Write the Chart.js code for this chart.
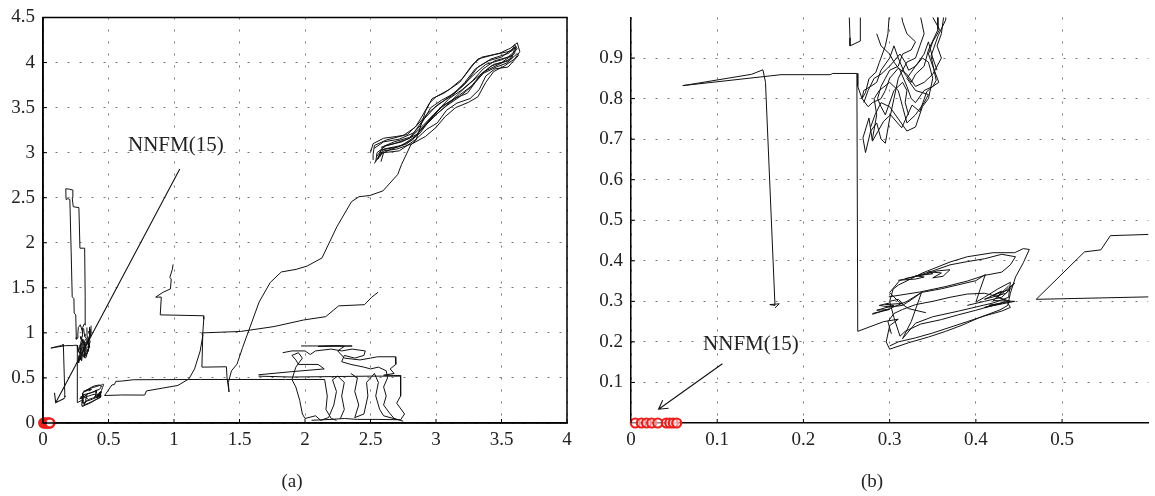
<!DOCTYPE html>
<html>
<head>
<meta charset="utf-8">
<script src="https://cdn.jsdelivr.net/npm/chart.js@4.4.0/dist/chart.umd.min.js"></script>
<style>
  body { margin: 0; background: #fff; width: 1155px; height: 496px; position: relative; overflow: hidden; }
  canvas { position: absolute; top: 0; }
  #chartA { left: 0; }
  #chartB { left: 580px; }
  .cap { position: absolute; top: 470px; font: 19px "Liberation Serif", serif; color: #222; transform: translateX(-50%); }
</style>
</head>
<body>
<canvas id="chartA" width="580" height="496"></canvas>
<canvas id="chartB" width="575" height="496"></canvas>
<div class="cap" style="left:292px">(a)</div>
<div class="cap" style="left:872px">(b)</div>
<script>
// tick values for both panels
const ticksAX = [0, 0.5, 1, 1.5, 2, 2.5, 3, 3.5, 4];
const ticksAY = [0, 0.5, 1, 1.5, 2, 2.5, 3, 3.5, 4, 4.5];
const ticksBX = [0, 0.1, 0.2, 0.3, 0.4, 0.5];
const ticksBY = [0.1, 0.2, 0.3, 0.4, 0.5, 0.6, 0.7, 0.8, 0.9];

// NNFM(15) positions, all sitting on y = 0
const nnfmX = [0.005, 0.012, 0.018, 0.024, 0.031, 0.041, 0.045, 0.049, 0.053];

// flag near the origin: vertical at 0.262, flat top, drop back to 0.29
const flagPath = [[0.263,0.226],[0.262,0.862],[0.234,0.862],[0.231,0.859],[0.174,0.859],[0.06,0.832],[0.066,0.834],
  [0.14,0.86],[0.153,0.871],[0.156,0.84],[0.167,0.29],[0.161,0.292],[0.172,0.294],[0.167,0.284]];

// lower tangle around (0.3..0.46, 0.18..0.43)
const lowLoopA = [[0.263,0.226],[0.293,0.25],[0.31,0.256],[0.3,0.24],[0.296,0.2],[0.3,0.182],[0.322,0.198],[0.345,0.212],
  [0.365,0.226],[0.385,0.242],[0.403,0.259],[0.428,0.279],[0.437,0.29],[0.44,0.32],[0.446,0.36],[0.455,0.395],[0.462,0.428],
  [0.455,0.43],[0.445,0.42],[0.42,0.42],[0.39,0.41],[0.37,0.397],[0.35,0.38],[0.338,0.37],[0.325,0.356],[0.31,0.34],
  [0.304,0.33],[0.3,0.3],[0.305,0.26],[0.312,0.214],[0.318,0.226],[0.336,0.244],[0.36,0.255],[0.38,0.267],[0.4,0.278],
  [0.42,0.29],[0.432,0.298]];
const lowLoopB = [[0.28,0.268],[0.3,0.282],[0.32,0.3],[0.337,0.322],[0.36,0.331],[0.38,0.341],[0.4,0.351],[0.411,0.366],
  [0.405,0.33],[0.4,0.298],[0.41,0.31],[0.425,0.33],[0.44,0.347],[0.438,0.31],[0.42,0.296],[0.4,0.286],[0.38,0.276],
  [0.35,0.262],[0.33,0.246],[0.315,0.208],[0.325,0.25],[0.337,0.322],[0.328,0.308],[0.315,0.29],[0.3,0.286],[0.288,0.29],
  [0.3,0.296]];
const lowLoopC = [[0.299,0.311],[0.335,0.323],[0.364,0.336],[0.39,0.35],[0.41,0.364],[0.43,0.372],[0.44,0.39],[0.446,0.41],
  [0.43,0.416],[0.41,0.405],[0.39,0.398],[0.37,0.39],[0.35,0.375],[0.33,0.362],[0.312,0.352],[0.3,0.322],[0.31,0.3],
  [0.322,0.282],[0.342,0.272]];
const lowLoopD = [[0.3,0.19],[0.31,0.2],[0.33,0.21],[0.35,0.222],[0.37,0.236],[0.39,0.25],[0.41,0.264],[0.43,0.276],
  [0.44,0.285],[0.436,0.3],[0.425,0.312],[0.41,0.32],[0.39,0.318],[0.37,0.31],[0.35,0.3],[0.33,0.292],[0.315,0.28],
  [0.305,0.27],[0.298,0.25],[0.302,0.22]];
const scribbleA = [[0.31,0.352],[0.33,0.355],[0.34,0.36],[0.33,0.363],[0.35,0.368],[0.345,0.373],[0.36,0.37],[0.35,0.358],
  [0.362,0.362],[0.37,0.378],[0.355,0.375],[0.34,0.366],[0.318,0.356]];
const scribbleB = [[0.39,0.29],[0.41,0.3],[0.43,0.31],[0.44,0.33],[0.42,0.315],[0.43,0.325],[0.41,0.305],[0.435,0.32],
  [0.445,0.345],[0.425,0.31],[0.44,0.3],[0.415,0.29],[0.43,0.295],[0.41,0.285],[0.445,0.3],[0.42,0.302],[0.438,0.338]];
const scribbleC = [[0.28,0.27],[0.29,0.275],[0.3,0.28],[0.285,0.278],[0.305,0.29],[0.295,0.292],[0.315,0.295],[0.31,0.305],[0.3,0.3]];

// upper tangle around (0.26..0.37, 0.67..1.1)
const upLoopA = [[0.263,0.862],[0.263,0.83],[0.268,0.8],[0.272,0.815],[0.276,0.849],[0.284,0.865],[0.288,0.889],[0.295,0.93],
  [0.298,0.96],[0.301,1.05]];
const upLoopB = [[0.367,1.08],[0.365,0.994],[0.356,0.954],[0.348,0.905],[0.354,0.845],[0.35,0.83],[0.343,0.817],[0.335,0.768],
  [0.326,0.784],[0.314,0.728],[0.301,0.76],[0.293,0.744],[0.28,0.695],[0.276,0.752],[0.269,0.703],[0.272,0.667],[0.278,0.72],
  [0.285,0.74],[0.29,0.7],[0.295,0.69],[0.3,0.75],[0.305,0.8],[0.31,0.85],[0.315,0.87],[0.32,0.89],[0.33,0.9],[0.335,0.93],
  [0.34,0.96],[0.336,1.0],[0.335,1.06]];
const upLoopC = [[0.355,1.06],[0.356,0.97],[0.345,0.92],[0.34,0.88],[0.33,0.86],[0.325,0.84],[0.318,0.86],[0.31,0.9],
  [0.305,0.93],[0.3,0.9],[0.29,0.87],[0.285,0.84],[0.278,0.83],[0.27,0.82],[0.268,0.8],[0.275,0.78],[0.28,0.79],[0.29,0.8],
  [0.295,0.82],[0.3,0.85],[0.31,0.875],[0.32,0.86],[0.33,0.83],[0.34,0.84],[0.35,0.86],[0.36,0.9],[0.355,0.93],[0.36,0.96],
  [0.365,1.04]];
const upLoopD = [[0.28,0.7],[0.285,0.76],[0.282,0.8],[0.288,0.82],[0.3,0.84],[0.31,0.82],[0.315,0.78],[0.32,0.74],[0.33,0.76],
  [0.34,0.79],[0.345,0.81],[0.33,0.82],[0.32,0.85],[0.33,0.88],[0.34,0.91],[0.345,0.94],[0.35,0.9],[0.355,0.87]];
const upLoopE = [[0.27,0.79],[0.275,0.82],[0.282,0.85],[0.29,0.86],[0.3,0.88],[0.312,0.91],[0.318,0.89],[0.322,0.87],
  [0.33,0.88],[0.338,0.9],[0.345,0.89],[0.35,0.85],[0.345,0.8],[0.338,0.78],[0.33,0.73],[0.32,0.72],[0.31,0.75],[0.3,0.78],
  [0.29,0.79],[0.283,0.76],[0.278,0.73]];
const upLoopF = [[0.285,0.96],[0.29,0.93],[0.3,0.91],[0.305,0.89],[0.312,0.87],[0.32,0.83],[0.325,0.8],[0.33,0.79],
  [0.34,0.82],[0.35,0.83],[0.357,0.84],[0.35,0.88],[0.345,0.91],[0.35,0.94],[0.358,0.97],[0.345,1.02]];
const upLoopG = [[0.31,1.05],[0.315,0.99],[0.32,0.96],[0.33,0.94],[0.325,0.92],[0.315,0.91],[0.31,0.88],[0.3,0.87],
  [0.295,0.85],[0.29,0.83],[0.286,0.8],[0.29,0.78],[0.295,0.76],[0.3,0.79],[0.305,0.82],[0.315,0.84],[0.32,0.82],
  [0.318,0.79],[0.322,0.76]];

// tall narrow loop rising to 2.6
const tallPath = [[0.301,1.0],[0.303,1.06],[0.315,1.1],[0.326,1.09],[0.322,1.4],[0.318,1.94],[0.282,1.94],[0.274,2.39],
  [0.231,2.4],[0.223,2.5],[0.228,2.585],[0.2,2.595],[0.174,2.6],[0.176,2.48],[0.19,2.49],[0.205,2.48],[0.215,1.9],
  [0.223,1.4],[0.236,1.38],[0.238,1.22],[0.25,1.2],[0.254,0.95],[0.254,0.93],[0.266,0.942],[0.266,1.0],[0.27,1.06],
  [0.285,1.09],[0.3,1.02]];

// long flat run at 0.48 and the rising branch ending near (2.56, 1.45)
const flatPath = [[0.47,0.305],[0.526,0.422],[0.545,0.427],[0.556,0.462],[0.6,0.465],[0.69,0.48],[1.2,0.483],[1.85,0.483],
  [2.15,0.483],[2.17,0.3],[2.16,0.15],[2.2,0.05],[2.24,0.03]];
const risePath = [[0.47,0.305],[0.6,0.311],[0.776,0.31],[0.79,0.356],[1.03,0.417],[1.114,0.49],[1.157,0.6],[1.2,0.8],
  [1.221,0.98],[1.215,1.0],[1.509,1.016],[1.763,1.07],[1.989,1.143],[2.158,1.18],[2.257,1.3],[2.454,1.313],[2.51,1.397],
  [2.558,1.451]];

// staircase from (1, 1.77) down and the long climb to the upper band
const climbPath = [[0.993,1.76],[0.987,1.705],[0.968,1.615],[0.979,1.597],[0.973,1.488],[0.917,1.451],[0.86,1.397],
  [0.903,1.397],[0.895,1.2],[1.225,1.19],[1.227,1.15],[1.22,1.0],[1.213,0.62],[1.4,0.624],[1.405,0.5],[1.42,0.345],
  [1.415,0.45],[1.439,0.58],[1.481,0.653],[1.523,0.835],[1.65,1.343],[1.735,1.56],[1.819,1.676],[1.932,1.705],
  [2.017,1.742],[2.13,1.832],[2.243,2.177],[2.355,2.456],[2.412,2.511],[2.496,2.525],[2.595,2.576],[2.708,2.758],
  [2.736,2.866],[2.807,3.084],[2.847,3.137]];

// band of laps between (2.5, 2.9) and (3.62, 4.2)
const bandA = [[2.847,3.137],[2.92,3.46],[2.97,3.6],[3.06,3.66],[3.18,3.78],[3.27,3.95],[3.32,4.04],[3.45,4.09],[3.58,4.13],
  [3.6,4.2],[3.62,4.15],[3.55,4.06],[3.45,4.02],[3.36,3.93],[3.28,3.8],[3.2,3.7],[3.1,3.6],[3.02,3.48],[2.94,3.35],
  [2.85,3.2],[2.74,3.12],[2.62,3.08],[2.55,3.0],[2.54,2.9]];
const bandB = [[2.56,2.93],[2.58,3.03],[2.7,3.06],[2.82,3.14],[2.9,3.28],[2.98,3.4],[3.08,3.52],[3.18,3.62],[3.26,3.72],
  [3.35,3.88],[3.44,3.98],[3.56,4.02],[3.62,4.1],[3.63,4.08],[3.55,3.95],[3.45,3.93],[3.38,3.85],[3.33,3.7],[3.26,3.6],
  [3.16,3.55],[3.08,3.47],[3.01,3.33],[2.93,3.26],[2.84,3.14],[2.72,3.02],[2.6,3.0],[2.58,2.9]];
const bandC = [[2.55,2.96],[2.6,3.07],[2.68,3.12],[2.8,3.17],[2.88,3.3],[2.96,3.5],[3.04,3.58],[3.14,3.66],[3.22,3.78],
  [3.3,3.93],[3.4,4.02],[3.5,4.06],[3.61,4.18],[3.6,4.1],[3.5,4.0],[3.42,3.96],[3.3,3.82],[3.22,3.72],[3.12,3.58],
  [3.04,3.5],[2.96,3.38],[2.88,3.22],[2.78,3.1],[2.66,3.04],[2.57,2.98],[2.53,2.88]];
const bandD = [[2.52,2.92],[2.52,2.98],[2.53,3.08],[2.62,3.14],[2.75,3.19],[2.84,3.28],[2.94,3.44],[3.02,3.54],[3.12,3.63],
  [3.22,3.76],[3.32,3.95],[3.42,4.04],[3.55,4.1],[3.6,4.16],[3.58,4.05],[3.48,3.98],[3.37,3.9],[3.28,3.75],[3.18,3.64],
  [3.1,3.55],[3.0,3.42],[2.92,3.3],[2.84,3.18],[2.74,3.08],[2.6,3.04],[2.55,2.92]];
const bandE = [[2.5,3.0],[2.52,3.1],[2.6,3.16],[2.7,3.18],[2.78,3.2],[2.85,3.3],[2.9,3.42],[2.95,3.55],[3.0,3.62],[3.1,3.7],
  [3.2,3.82],[3.28,3.98],[3.35,4.06],[3.48,4.1],[3.57,4.16],[3.62,4.22],[3.64,4.12],[3.6,4.04],[3.52,3.96],[3.44,3.9],
  [3.38,3.78],[3.32,3.62],[3.25,3.56],[3.15,3.5],[3.07,3.4],[3.0,3.28],[2.92,3.18],[2.82,3.1],[2.7,3.04],[2.6,3.02],
  [2.57,2.95]];
const bandF = [[2.53,3.05],[2.6,3.12],[2.72,3.15],[2.83,3.22],[2.9,3.36],[2.99,3.5],[3.1,3.62],[3.2,3.74],[3.3,3.88],
  [3.38,3.98],[3.5,4.03],[3.58,4.08],[3.55,4.0],[3.46,3.95],[3.36,3.88],[3.3,3.78],[3.24,3.66],[3.14,3.6],[3.05,3.52],
  [2.98,3.42],[2.9,3.3],[2.8,3.16],[2.68,3.1],[2.58,3.06]];

// boxy tangle on the floor between x = 1.6 and 2.8
const boxA = [[1.83,0.78],[1.9,0.8],[2.0,0.8],[2.04,0.76],[2.08,0.8],[2.2,0.82],[2.28,0.8],[2.36,0.82],[2.46,0.8],[2.45,0.75],
  [2.38,0.72],[2.3,0.75],[2.28,0.68],[2.35,0.65],[2.45,0.62],[2.5,0.6],[2.56,0.62],[2.62,0.58],[2.63,0.5],[2.6,0.4],
  [2.62,0.3],[2.6,0.2],[2.64,0.12],[2.68,0.05],[2.75,0.02]];
const boxB = [[1.97,0.855],[2.36,0.855],[2.1,0.85],[2.25,0.86],[2.3,0.85],[2.25,0.8],[2.3,0.72],[2.42,0.7],[2.5,0.72],
  [2.553,0.735],[2.69,0.735],[2.693,0.65],[2.65,0.6],[2.68,0.55],[2.6,0.53],[2.73,0.527],[2.73,0.3],[2.7,0.22],[2.76,0.1],
  [2.73,0.036],[2.55,0.04],[2.4,0.04],[2.3,0.05],[2.2,0.04],[2.05,0.03]];
const boxC = [[1.645,0.535],[1.9,0.57],[2.147,0.6],[2.1,0.65],[1.95,0.65],[1.93,0.7],[1.9,0.75],[1.95,0.78],[1.98,0.72],
  [1.93,0.62],[1.9,0.483],[1.93,0.4],[1.96,0.25],[1.98,0.1],[2.0,0.05],[2.08,0.08],[2.12,0.03],[2.18,0.06],[2.22,0.2],
  [2.24,0.35],[2.21,0.48],[2.25,0.52],[2.3,0.45],[2.28,0.3],[2.3,0.15],[2.27,0.05]];
const boxD = [[2.35,0.55],[2.4,0.5],[2.38,0.35],[2.41,0.2],[2.38,0.06],[2.45,0.1],[2.48,0.3],[2.47,0.45],[2.53,0.55],
  [2.56,0.45],[2.54,0.3],[2.57,0.15],[2.6,0.08],[2.7,0.04]];
const boxE = [[1.645,0.52],[1.9,0.51],[2.2,0.515],[2.5,0.52],[2.73,0.52]];

const paths = [flagPath, lowLoopA, lowLoopB, lowLoopC, lowLoopD, scribbleA, scribbleB, scribbleC,
  upLoopA, upLoopB, upLoopC, upLoopD, upLoopE, upLoopF, upLoopG, tallPath, flatPath, risePath, climbPath,
  bandA, bandB, bandC, bandD, bandE, bandF, boxA, boxB, boxC, boxD, boxE];

// annotation text and arrow (from, to) in data units
const noteA = { text: 'NNFM(15)', x: 0.649, y: 3.08, arrow: [[1.044, 2.82], [0.097, 0.225]], spread: 35 };
const noteB = { text: 'NNFM(15)', x: 0.0836, y: 0.194, arrow: [[0.106, 0.146], [0.032, 0.034]], spread: 30 };

const serif = "'Liberation Serif', 'Times New Roman', serif";
Chart.defaults.font.family = serif;
Chart.defaults.font.size = 19;
Chart.defaults.color = '#222';

// inward ticks, optional box and the arrow note
const panelDecor = {
  id: 'panelDecor',
  afterDraw(chart, args, opts) {
    const { ctx, chartArea: a, scales: { x, y } } = chart;
    ctx.save();
    ctx.strokeStyle = '#000';
    ctx.lineWidth = 1;
    ctx.beginPath();
    x.ticks.forEach(t => {
      const px = x.getPixelForValue(t.value);
      ctx.moveTo(px, a.bottom);
      ctx.lineTo(px, a.bottom - 4);
    });
    y.ticks.forEach(t => {
      const py = y.getPixelForValue(t.value);
      ctx.moveTo(a.left, py);
      ctx.lineTo(a.left + 4, py);
    });
    ctx.stroke();
    if (opts.box) {
      ctx.lineWidth = 1.5;
      ctx.strokeRect(a.left, a.top, a.right - a.left, a.bottom - a.top);
    }
    const note = opts.note;
    ctx.fillStyle = '#222';
    ctx.font = '21px ' + serif;
    ctx.textBaseline = 'middle';
    ctx.fillText(note.text, x.getPixelForValue(note.x), y.getPixelForValue(note.y));
    const [p0, p1] = note.arrow.map(([vx, vy]) => [x.getPixelForValue(vx), y.getPixelForValue(vy)]);
    const ang = Math.atan2(p0[1] - p1[1], p0[0] - p1[0]);
    const s = note.spread * Math.PI / 180;
    ctx.strokeStyle = '#111';
    ctx.lineWidth = 1.1;
    ctx.beginPath();
    ctx.moveTo(p0[0], p0[1]);
    ctx.lineTo(p1[0], p1[1]);
    ctx.moveTo(p1[0] + 10 * Math.cos(ang - s), p1[1] + 10 * Math.sin(ang - s));
    ctx.lineTo(p1[0], p1[1]);
    ctx.lineTo(p1[0] + 10 * Math.cos(ang + s), p1[1] + 10 * Math.sin(ang + s));
    ctx.stroke();
    ctx.restore();
  }
};

function buildDatasets() {
  const marks = {
    data: nnfmX.map(v => ({ x: v, y: 0 })),
    showLine: false,
    pointRadius: 4.5,
    pointBorderWidth: 2.2,
    pointBorderColor: '#e8201e',
    pointBackgroundColor: 'rgba(255,255,255,0.5)',
    clip: false
  };
  const lines = paths.map(p => ({
    data: p.map(([px, py]) => ({ x: px, y: py })),
    showLine: true,
    borderColor: '#111',
    borderWidth: 1,
    pointRadius: 0,
    tension: 0,
    fill: false
  }));
  return [marks, ...lines];
}

function axis(min, max, tickList, fit) {
  return {
    type: 'linear',
    min: min,
    max: max,
    afterBuildTicks: s => { s.ticks = tickList.map(v => ({ value: v })); },
    afterFit: fit,
    ticks: {
      font: { family: serif, size: 19, lineHeight: 1 },
      color: '#222',
      padding: 8,
      maxRotation: 0,
      callback: v => String(v)
    },
    grid: { color: '#777', lineWidth: 1, drawTicks: false },
    border: { color: '#000', width: 1.5, dash: [2, 10] }
  };
}

function makeChart(id, xr, yr, xt, yt, yWidth, pad, decor) {
  return new Chart(document.getElementById(id), {
    type: 'scatter',
    data: { datasets: buildDatasets() },
    options: {
      responsive: false,
      animation: false,
      devicePixelRatio: 1,
      layout: { padding: pad },
      plugins: { legend: { display: false }, tooltip: { enabled: false }, panelDecor: decor },
      scales: {
        x: axis(xr[0], xr[1], xt, s => { s.height = 73; }),
        y: axis(yr[0], yr[1], yt, s => { s.width = yWidth; })
      }
    },
    plugins: [panelDecor]
  });
}

makeChart('chartA', [0, 4], [0, 4.5], ticksAX, ticksAY, 43, { top: 10, right: 13, left: 0, bottom: 0 }, { box: true, note: noteA });
makeChart('chartB', [0, 0.6], [0, 1], ticksBX, ticksBY, 51, { top: 12, right: 1, left: 0, bottom: 0 }, { box: false, note: noteB });
</script>
</body>
</html>
